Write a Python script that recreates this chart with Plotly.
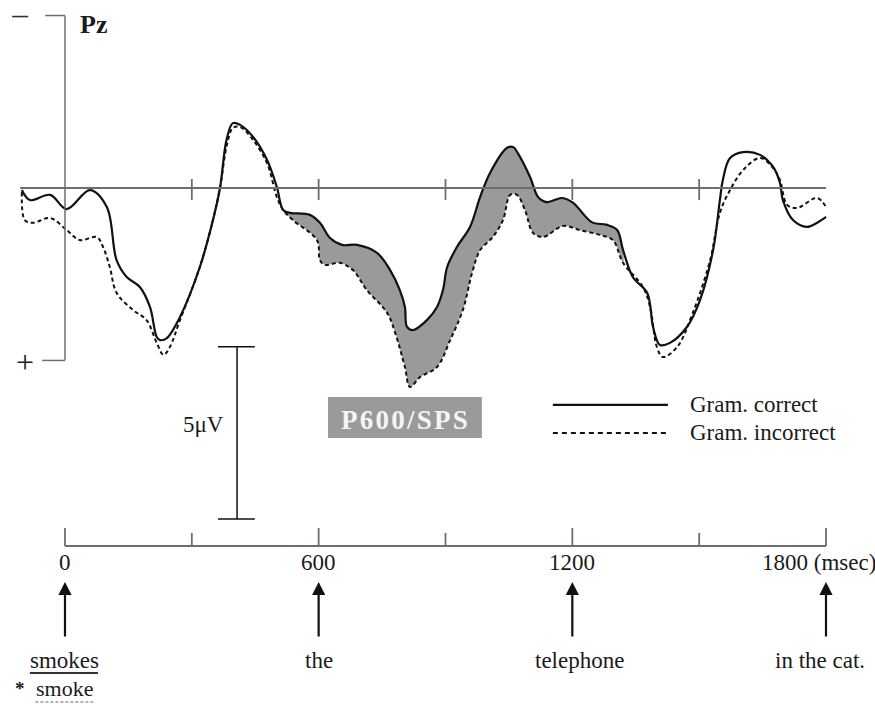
import plotly.graph_objects as go

# ---- data (time in ms, amplitude in microvolts; positive plotted downward) ----
t_correct = [-102, -83, -35, 4, 59, 99, 122, 146, 177, 201, 217, 225, 241, 272, 319, 350, 367, 382,
             397, 414, 445, 478, 501, 516, 532, 579, 603, 627, 655, 691, 738, 769, 792, 804, 809, 823,
             856, 880, 894, 904, 927, 958, 982, 1005, 1045, 1060, 1071, 1100, 1119, 1140, 1176, 1202,
             1246, 1282, 1306, 1320, 1343, 1377, 1391, 1407, 1431, 1471, 1502, 1533, 1549, 1556, 1573,
             1604, 1644, 1675, 1691, 1698, 1722, 1755, 1779, 1800]
v_correct = [0.06, 0.35, 0.20, 0.61, 0.06, 0.55, 2.09, 2.58, 2.87, 3.45, 4.32, 4.41, 4.35, 3.74, 2.29,
             0.93, -0.03, -1.39, -1.88, -1.83, -1.48, -0.81, -0.03, 0.64, 0.72, 0.78, 1.01, 1.45, 1.65,
             1.65, 1.88, 2.38, 2.96, 3.45, 4.03, 4.12, 3.83, 3.45, 2.96, 2.29, 1.71, 1.13, 0.26, -0.43,
             -1.16, -1.19, -1.01, -0.32, 0.26, 0.41, 0.29, 0.43, 0.99, 1.07, 1.22, 1.80, 2.58, 3.04,
             4.03, 4.55, 4.49, 4.03, 3.25, 1.80, 0.35, -0.23, -0.87, -1.04, -0.96, -0.61, -0.15, 0.35,
             0.93, 1.13, 1.01, 0.84]

t_incorrect = [-102, -95, -76, -35, 4, 35, 75, 90, 106, 122, 161, 193, 217, 233, 248, 272, 319, 350,
               367, 383, 397, 414, 445, 478, 501, 516, 539, 596, 603, 615, 650, 681, 714, 762, 781, 804,
               816, 840, 880, 911, 941, 963, 982, 1012, 1036, 1053, 1069, 1088, 1107, 1131, 1178, 1218,
               1265, 1296, 1320, 1367, 1384, 1400, 1414, 1448, 1485, 1526, 1549, 1573, 1604, 1644, 1675,
               1691, 1708, 1731, 1779, 1800]
v_incorrect = [0.12, 0.93, 1.01, 0.87, 1.22, 1.51, 1.42, 1.71, 2.29, 3.04, 3.54, 3.83, 4.49, 4.84, 4.61,
               3.83, 2.29, 0.93, -0.03, -1.25, -1.74, -1.77, -1.39, -0.72, 0.26, 0.64, 0.93, 1.51, 2.09,
               2.23, 2.17, 2.38, 2.96, 3.62, 4.20, 5.19, 5.77, 5.48, 5.19, 4.41, 3.54, 2.46, 1.80, 1.42,
               0.93, 0.20, 0.20, 0.64, 1.30, 1.42, 1.10, 1.22, 1.36, 1.51, 2.17, 2.87, 3.45, 4.61, 4.90,
               4.61, 3.62, 2.09, 0.72, 0.06, -0.52, -0.87, -0.58, -0.23, 0.49, 0.58, 0.29, 0.55]

time_ticks = [0, 600, 1200, 1800]
time_tick_labels = ["0", "600", "1200", "1800 (msec)"]
minor_ticks = [300, 900, 1500]
baseline_ticks = [300, 600, 900, 1200, 1500]
words = ["smokes", "the", "telephone", "in the cat."]
word_times = [0, 600, 1216, 1786]
effect_window = [516, 1320]
series_names = ["Gram. correct", "Gram. incorrect"]

# ---- styling ----
FONT = "Liberation Serif"
INK = "#111111"
AXIS = "#6e6e6e"
SHADE = "#9a9a9a"
DASH = "4px,3px"
FS = 23

fig = go.Figure()

# shaded P600 area between the two waveforms
sc = [(t, v) for t, v in zip(t_correct, v_correct) if effect_window[0] <= t <= effect_window[1]]
si = [(t, v) for t, v in zip(t_incorrect, v_incorrect) if effect_window[0] <= t <= effect_window[1]]
poly = sc + si[::-1]
fig.add_trace(go.Scatter(x=[p[0] for p in poly], y=[p[1] for p in poly], fill="toself",
                         fillcolor=SHADE, mode="lines", line=dict(width=0, shape="spline"),
                         hoverinfo="skip", showlegend=False))

fig.add_trace(go.Scatter(x=t_incorrect, y=v_incorrect, mode="lines", name=series_names[1],
                         line=dict(color=INK, width=2, dash=DASH, shape="spline"), showlegend=False))
fig.add_trace(go.Scatter(x=t_correct, y=v_correct, mode="lines", name=series_names[0],
                         line=dict(color=INK, width=2.2, shape="spline"), showlegend=False))

shapes = []
def ln(x0, y0, x1, y1, color=INK, width=1.5, dash=None):
    d = dict(type="line", x0=x0, y0=y0, x1=x1, y1=y1, xref="x", yref="y",
             line=dict(color=color, width=width))
    if dash:
        d["line"]["dash"] = dash
    shapes.append(d)

# baseline and its ticks
ln(-106, 0, 1800, 0, AXIS, 1.8)
for t in baseline_ticks:
    ln(t, -0.26, t, 0.35, AXIS, 1.8)
# vertical amplitude axis with brackets
ln(0, -5, 0, 5, AXIS, 1.5)
ln(-47, -5, 0, -5, AXIS, 1.5)
ln(-54, 5, 0, 5, AXIS, 1.5)
# minus sign drawn as a short bar
ln(-125, -4.97, -87, -4.97, "#333333", 1.6)
# 5 microvolt calibration bar
ln(407, 4.6, 407, 9.6, INK, 1.5)
ln(362, 4.6, 449, 4.6, INK, 1.5)
ln(362, 9.6, 449, 9.6, INK, 1.5)
# time axis at the bottom
ln(0, 10.38, 1800, 10.38, AXIS, 1.8)
for t in time_ticks:
    ln(t, 9.86, t, 10.38, AXIS, 1.8)
for t in minor_ticks:
    ln(t, 10.0, t, 10.38, AXIS, 1.8)
# legend samples
ln(1154, 6.29, 1426, 6.29, INK, 2.2)
ln(1154, 7.10, 1426, 7.10, INK, 2, "5px,4px")
# underline for "smokes" and dotted line under "smoke"
ln(-83, 14.06, 78, 14.06, "#333333", 2)
ln(-70, 14.9, 68, 14.9, "#999999", 1.5, "3px,2px")
# P600/SPS box
shapes.append(dict(type="rect", x0=622, x1=986, y0=6.06, y1=7.25, xref="x", yref="y",
                   fillcolor=SHADE, line=dict(width=0)))

annotations = []
def txt(x, y, s, size=FS, xanchor="center", color="#1a1a1a", bold=False):
    annotations.append(dict(x=x, y=y, xref="x", yref="y", text=("<b>%s</b>" % s) if bold else s,
                            showarrow=False, xanchor=xanchor, yanchor="middle",
                            font=dict(family=FONT, size=size, color=color)))

txt(67, -4.75, "Pz", 26, bold=True)
txt(-95, 5.05, "+", 32)
txt(381, 6.87, "5\u03bcV", FS, xanchor="right")
txt(804, 6.72, "\u200a".join("P600/SPS"), 27, color="#f4f4f4", bold=True)
txt(1474, 6.29, series_names[0], FS, xanchor="left")
txt(1474, 7.10, series_names[1], FS, xanchor="left")
for t, lab in zip(time_ticks, time_tick_labels):
    if t == 1800:
        txt(1644, 10.87, lab, FS, xanchor="left")
    else:
        txt(t, 10.87, lab, FS)
for t, w in zip(word_times, words):
    txt(t, 13.7, w, FS)
txt(-106, 14.5, "<b>*</b>", 19)
txt(0, 14.5, "smoke", 22)

for t in time_ticks:
    annotations.append(dict(x=t, y=11.42, ax=t, ay=13.05, xref="x", yref="y", axref="x", ayref="y",
                            text="", showarrow=True, arrowhead=2, arrowsize=1.2, arrowwidth=2.2,
                            arrowcolor=INK))

fig.update_layout(
    width=875, height=704, autosize=False,
    margin=dict(l=0, r=0, t=0, b=0),
    paper_bgcolor="white", plot_bgcolor="white",
    xaxis=dict(range=[-153.7, 1915.9], visible=False, fixedrange=True),
    yaxis=dict(range=[14.96, -5.45], visible=False, fixedrange=True),
    shapes=shapes, annotations=annotations, showlegend=False,
)

fig.write_html("out.html", config={"displayModeBar": False},
               post_script="document.body.style.margin='0px';document.body.style.padding='0px';")
